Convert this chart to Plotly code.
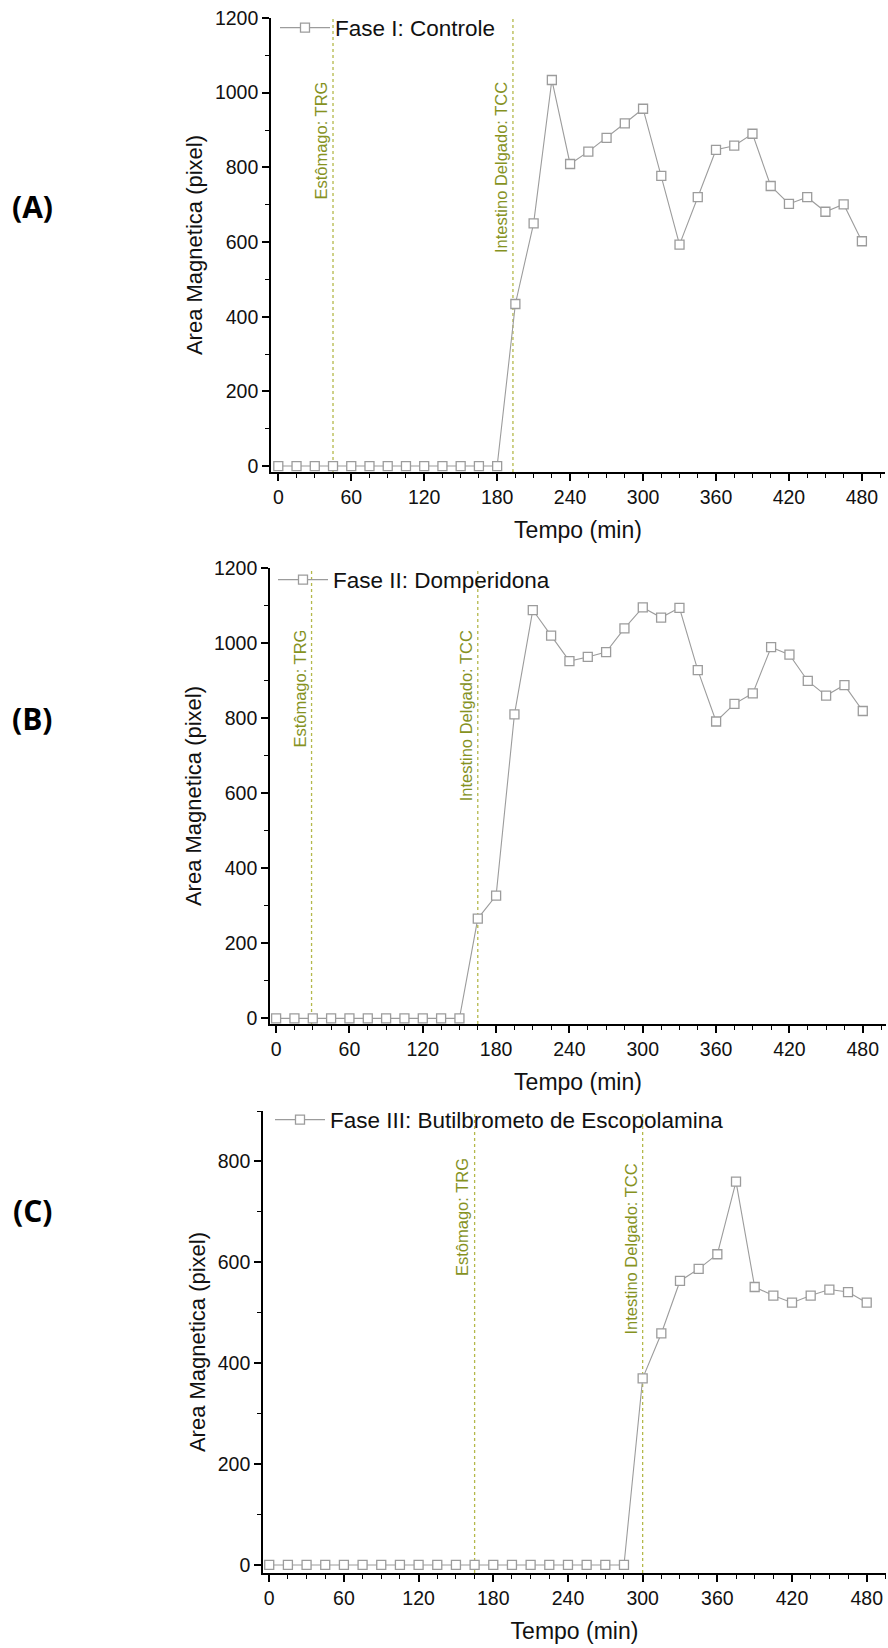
import plotly.graph_objects as go

W, H = 888, 1648

# ---------------- data ----------------
time_min = [t for t in range(0, 481, 15)]

area_fase1 = [0, 0, 0, 0, 0, 0, 0, 0, 0, 0, 0, 0, 0,
              434, 650, 1034, 809, 842, 879, 918, 957, 777, 593, 720,
              847, 858, 890, 750, 702, 720, 681, 701, 602]
area_fase2 = [0, 0, 0, 0, 0, 0, 0, 0, 0, 0, 0,
              266, 327, 810, 1088, 1020, 952, 963, 976, 1039, 1095, 1068,
              1094, 928, 791, 838, 866, 989, 969, 899, 860, 888, 819]
area_fase3 = [0, 0, 0, 0, 0, 0, 0, 0, 0, 0, 0, 0, 0, 0, 0, 0, 0, 0, 0, 0,
              370, 459, 563, 587, 616, 760, 551, 534, 520, 534, 546, 541, 520]

series_names = ["Fase I: Controle", "Fase II: Domperidona",
                "Fase III: Butilbrometo de Escopolamina"]
panel_labels = ["(A)", "(B)", "(C)"]
trg_min = [45, 29, 165]
tcc_min = [193, 165, 300]
marker_text_top = [[1035, 1035], [1040, 1040], [810, 800]]
trg_label = "Estômago: TRG"
tcc_label = "Intestino Delgado: TCC"
x_ticks = [0, 60, 120, 180, 240, 300, 360, 420, 480]
y_ranges = [[-16, 1200], [-15, 1200], [-16, 900]]
x_ranges = [[-6, 499], [-5, 499], [-5, 495.5]]

# ---------------- layout geometry (pixels) ----------------
boxes = [  # x0, x1, ytop, ybottom
    (271, 885, 18, 472),
    (270, 886, 568, 1024),
    (263, 886, 1111, 1573),
]
legend_px = [(275, 28), (273, 580), (270, 1120)]
label_px = [(32, 206), (32, 718), (32, 1210)]

def px(xp):
    return xp / W

def py(yp):
    return 1 - yp / H

OLIVE_TXT = "#86921f"
OLIVE_LINE = "#b4b84a"
GRAY = "#9c9c9c"
FONT = "Liberation Sans, Arial, sans-serif"

fig = go.Figure()
all_series = [area_fase1, area_fase2, area_fase3]
shapes = []
annotations = []
layout_axes = {}

for i in range(3):
    sfx = "" if i == 0 else str(i + 1)
    leg = "legend" if i == 0 else "legend" + str(i + 1)
    fig.add_trace(go.Scatter(
        x=time_min, y=all_series[i], mode="lines+markers",
        name=series_names[i],
        line=dict(color=GRAY, width=1.1),
        marker=dict(symbol="square", size=9, color="white", line=dict(width=1.3, color=GRAY)),
        xaxis="x" + sfx, yaxis="y" + sfx, legend=leg, showlegend=True,
    ))
    x0, x1, yt, yb = boxes[i]
    common = dict(showline=True, linecolor="black", linewidth=1.6,
                  ticks="outside", tickcolor="black", tickwidth=1.5, ticklen=7,
                  showgrid=False, zeroline=False, automargin=False,
                  tickfont=dict(family=FONT, size=19.5, color="#111111"))
    layout_axes["xaxis" + sfx] = dict(
        common, domain=[px(x0), px(x1)], anchor="y" + sfx,
        range=x_ranges[i], tickvals=x_ticks,
        minor=dict(dtick=15, tick0=0, ticks="outside", ticklen=4, tickwidth=1.3, tickcolor="black"),
        title=dict(text="Tempo (min)", font=dict(family=FONT, size=23, color="#111111"), standoff=15),
    )
    layout_axes["yaxis" + sfx] = dict(
        common, domain=[py(yb), py(yt)], anchor="x" + sfx,
        range=y_ranges[i], dtick=200, tick0=0,
        minor=dict(dtick=100, tick0=0, ticks="outside", ticklen=4, tickwidth=1.3, tickcolor="black"),
        title=dict(text="Area Magnetica (pixel)", font=dict(family=FONT, size=22, color="#111111"), standoff=6),
    )
    lx, ly = legend_px[i]
    layout_axes[leg] = dict(
        x=px(lx), y=py(ly), xanchor="left", yanchor="middle",
        bgcolor="rgba(0,0,0,0)", borderwidth=0, itemwidth=50,
        font=dict(family=FONT, size=22.5, color="#111111"),
    )
    for j, (xv, txt) in enumerate([(trg_min[i], trg_label), (tcc_min[i], tcc_label)]):
        shapes.append(dict(type="line", xref="x" + sfx, yref="y" + sfx + " domain",
                           x0=xv, x1=xv, y0=0, y1=1, layer="below",
                           line=dict(color=OLIVE_LINE, width=1.3, dash="dot")))
        annotations.append(dict(xref="x" + sfx, yref="y" + sfx, x=xv, y=marker_text_top[i][j],
                                text=txt, textangle=-90, showarrow=False,
                                xanchor="right", yanchor="top", xshift=-1,
                                font=dict(family=FONT, size=16.5, color=OLIVE_TXT)))
    cx, cy = label_px[i]
    annotations.append(dict(xref="paper", yref="paper", x=px(cx), y=py(cy),
                            text="<b>" + panel_labels[i] + "</b>", showarrow=False,
                            xanchor="center", yanchor="middle",
                            font=dict(family="Open Sans, Noto Sans, sans-serif", size=30, color="black")))

fig.update_layout(
    width=W, height=H, autosize=False,
    margin=dict(l=0, r=0, t=0, b=0, autoexpand=False),
    paper_bgcolor="white", plot_bgcolor="white",
    shapes=shapes, annotations=annotations,
    **layout_axes,
)

fig.write_html("out.html", config={"displayModeBar": False},
               post_script="document.body.style.margin='0px';document.body.style.padding='0px';")
